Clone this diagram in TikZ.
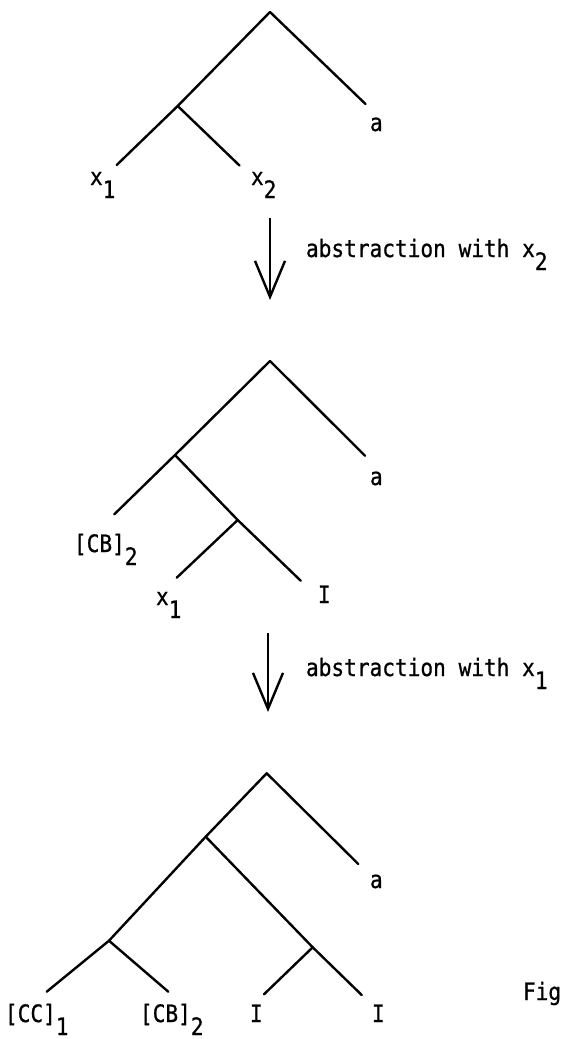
\documentclass[tikz,border=0pt]{standalone}
\usepackage{fontspec}
\setmonofont[FakeStretch=0.88,FakeBold=0.8]{DejaVu Sans Mono}
\usetikzlibrary{arrows.meta}
% typewriter-style subscript: a full-size digit dropped below the line
\newcommand{\lowsub}[1]{\raisebox{-13pt}{#1}}

\begin{document}
\begin{tikzpicture}[x=1pt,y=-1pt,
  branch/.style={line width=2.4pt, line cap=round, line join=round},
  derive/.style={line width=2.4pt, -{Straight Barb[length=36pt,width=30pt]}},
  lbl/.style={font=\ttfamily\fontsize{24}{28}\selectfont, anchor=base west, inner sep=0pt, outer sep=0pt}]
\useasboundingbox (0,0) rectangle (566,1039);

% ---- first tree: ((x1 x2) a)
\coordinate (t1r)  at (270,12);
\coordinate (t1n)  at (177.7,106);
\coordinate (t1x1) at (116.7,165);
\coordinate (t1x2) at (239.5,165.5);
\coordinate (t1a)  at (365.5,104);
\draw[branch] (t1x1) -- (t1n) -- (t1r) -- (t1a);
\draw[branch] (t1n) -- (t1x2);
\node[lbl] (l1x1) at (90,185) {x\lowsub{1}};
\node[lbl] (l1x2) at (251,185) {x\lowsub{2}};
\node[lbl] (l1a)  at (370,131) {a};

% ---- first abstraction step
\coordinate (d1s) at (270,218);
\coordinate (d1e) at (270,300);
\draw[derive] (d1s) -- (d1e);
\node[lbl] (s1) at (306,257) {abstraction with x\lowsub{2}};

% ---- second tree: (([CB]2 (x1 I)) a)
\coordinate (t2r)  at (270,361);
\coordinate (t2n)  at (175,455);
\coordinate (t2cb) at (114.3,514.3);
\coordinate (t2m)  at (237.7,520);
\coordinate (t2x1) at (176.7,577.7);
\coordinate (t2i)  at (300.7,580.7);
\coordinate (t2a)  at (365,455.7);
\draw[branch] (t2cb) -- (t2n) -- (t2r) -- (t2a);
\draw[branch] (t2n) -- (t2m) -- (t2i);
\draw[branch] (t2m) -- (t2x1);
\node[lbl] (l2cb) at (74,552) {[CB]\lowsub{2}};
\node[lbl] (l2x1) at (156,605) {x\lowsub{1}};
\node[lbl] (l2i)  at (318,603) {I};
\node[lbl] (l2a)  at (370,485) {a};

% ---- second abstraction step
\coordinate (d2s) at (268,633);
\coordinate (d2e) at (268,712);
\draw[derive] (d2s) -- (d2e);
\node[lbl] (s2) at (306,676) {abstraction with x\lowsub{1}};

% ---- third tree: ((([CC]1 [CB]2) (I I)) a)
\coordinate (t3r)  at (266.7,773.3);
\coordinate (t3n)  at (205.7,836.7);
\coordinate (t3m)  at (109,940.7);
\coordinate (t3cc) at (46.7,991.7);
\coordinate (t3cb) at (168.3,991.7);
\coordinate (t3k)  at (312.7,947.3);
\coordinate (t3i1) at (264,994.3);
\coordinate (t3i2) at (361.7,995);
\coordinate (t3a)  at (358.3,864);
\draw[branch] (t3cc) -- (t3m) -- (t3n) -- (t3r) -- (t3a);
\draw[branch] (t3m) -- (t3cb);
\draw[branch] (t3n) -- (t3k) -- (t3i2);
\draw[branch] (t3k) -- (t3i1);
\node[lbl] (l3cc) at (5,1022) {[CC]\lowsub{1}};
\node[lbl] (l3cb) at (140,1022) {[CB]\lowsub{2}};
\node[lbl] (l3i1) at (250,1022) {I};
\node[lbl] (l3i2) at (372,1022) {I};
\node[lbl] (l3a)  at (370,888) {a};
\node[lbl] (fig)  at (523,1000) {Fig};
\end{tikzpicture}
\end{document}
